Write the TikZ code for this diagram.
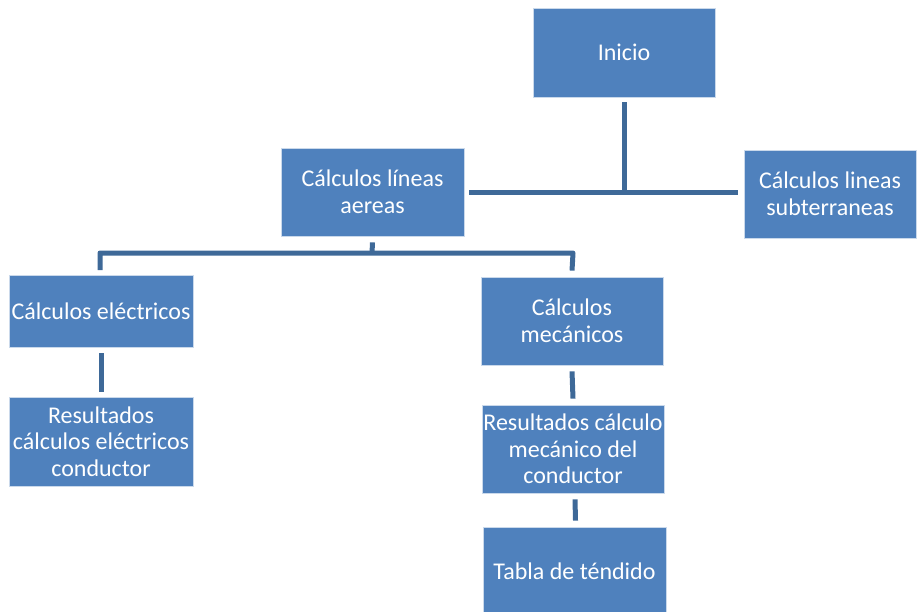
\documentclass[tikz,border=0pt]{standalone}
\usepackage{fontspec}
\setmainfont{Carlito}
\definecolor{boxblue}{HTML}{4F81BD}
\definecolor{linkblue}{HTML}{3E6998}
\begin{document}
\begin{tikzpicture}[x=1pt,y=-1pt,
  box/.style={fill=boxblue, draw=white!70!boxblue, line width=0.8pt, text=white, align=center,
    inner sep=0pt, font=\fontsize{24}{26.7}\selectfont},
  link/.style={draw=linkblue, line width=5pt}]
\useasboundingbox (0,0) rectangle (917,612);
\node[box, minimum width=182pt, minimum height=89pt] (ini) at (624,52.5) {Inicio};
\node[box, minimum width=183pt, minimum height=88pt] (aer) at (372.5,192) {Cálculos líneas\\aereas};
\node[box, minimum width=172pt, minimum height=88pt] (sub) at (830,194) {Cálculos lineas\\subterraneas};
\node[box, minimum width=184pt, minimum height=72pt] (ele) at (101,311) {Cálculos eléctricos};
\node[box, minimum width=184pt, minimum height=89pt] (rel) at (101,441.5) {Resultados\\cálculos eléctricos\\conductor};
\node[box, minimum width=182pt, minimum height=88pt] (mec) at (572,321) {Cálculos\\mecánicos};
\node[box, minimum width=182pt, minimum height=88pt] (rme) at (573,449) {Resultados cálculo\\mecánico del\\conductor};
\node[box, minimum width=183pt, minimum height=88pt] (tab) at (574.5,571) {Tabla de téndido};
% Inicio -> junction
\coordinate (j1) at (624,193);
\draw[link] ([yshift=-5pt]ini.south) -- (j1);
\draw[link] ([xshift=5pt]aer.east |- j1) -- ([xshift=-6pt]sub.west |- j1);
% aereas -> children
\coordinate (j2) at (372,253);
\draw[link] ([yshift=-6pt]aer.south) -- (j2);
\draw[link, line join=round] (100,270) -- (100,253) -- (j2) -- (573,253) -- ([yshift=6pt]mec.north);
% electricos -> resultados
\draw[link] ([yshift=-6pt]ele.south) -- ([yshift=5pt]rel.north);
% mecanicos -> resultados
\draw[link] ([yshift=-6pt]mec.south) -- ([yshift=6pt]rme.north);
% resultados -> tabla
\draw[link] ([xshift=2pt,yshift=-6pt]rme.south) -- ([xshift=1pt,yshift=6pt]tab.north);
\end{tikzpicture}
\end{document}
